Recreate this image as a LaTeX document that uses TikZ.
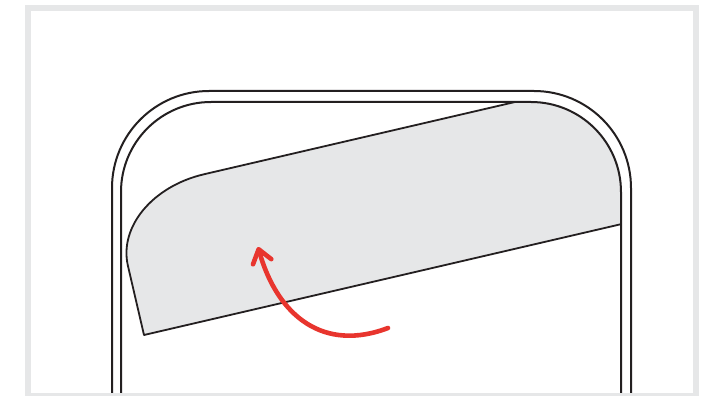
\documentclass[tikz,border=0pt]{standalone}
\usepackage{tikz}
\usetikzlibrary{arrows.meta}
\definecolor{inkdark}{RGB}{35,31,32}
\definecolor{filmgrey}{RGB}{230,231,232}
\definecolor{framegrey}{RGB}{230,231,232}
\definecolor{swipered}{RGB}{232,53,46}
\tikzset{
  outline/.style={draw=inkdark, line width=2pt},
  film/.style={fill=filmgrey},
  frame/.style={draw=framegrey, line width=5.5pt},
  swipe/.style={draw=swipered, line width=4.6pt, line cap=round,
    -{Straight Barb[length=13pt,width=19pt,round]}},
}
\begin{document}
\begin{tikzpicture}[x=1pt,y=-1pt]
  \clip (0,0) rectangle (713,396);
  \fill[white] (0,0) rectangle (713,396);
  % film being laid on the screen
  \begin{scope}
    \clip[rounded corners=90pt] (121,400) -- (121,102) -- (621,102) -- (621,400);
    \begin{scope}[shift={(144,335)},rotate=13.08]
      \fill[film] (600,0) -- (0,0) -- (0,-71) .. controls (0,-111) and (42,-143) .. (95,-143) -- (600,-143) -- cycle;
      \draw[outline,line width=1.8pt,line join=round] (600,0) -- (0,0) -- (0,-71) .. controls (0,-111) and (42,-143) .. (95,-143) -- (600,-143);
    \end{scope}
  \end{scope}
  % phone body
  \draw[outline,rounded corners=97pt] (112,400) -- (112,91) -- (631,91) -- (631,400);
  \draw[outline,rounded corners=90pt] (121,400) -- (121,102) -- (621,102) -- (621,400);
  % swipe arrow
  \coordinate (tail) at (388,328);
  \coordinate (tip) at (258,247);
  \draw[swipe] (tail) .. controls (325,352) and (278,318) .. (tip);
  \draw[frame] (28,8) rectangle (696,396);
\end{tikzpicture}
\end{document}
